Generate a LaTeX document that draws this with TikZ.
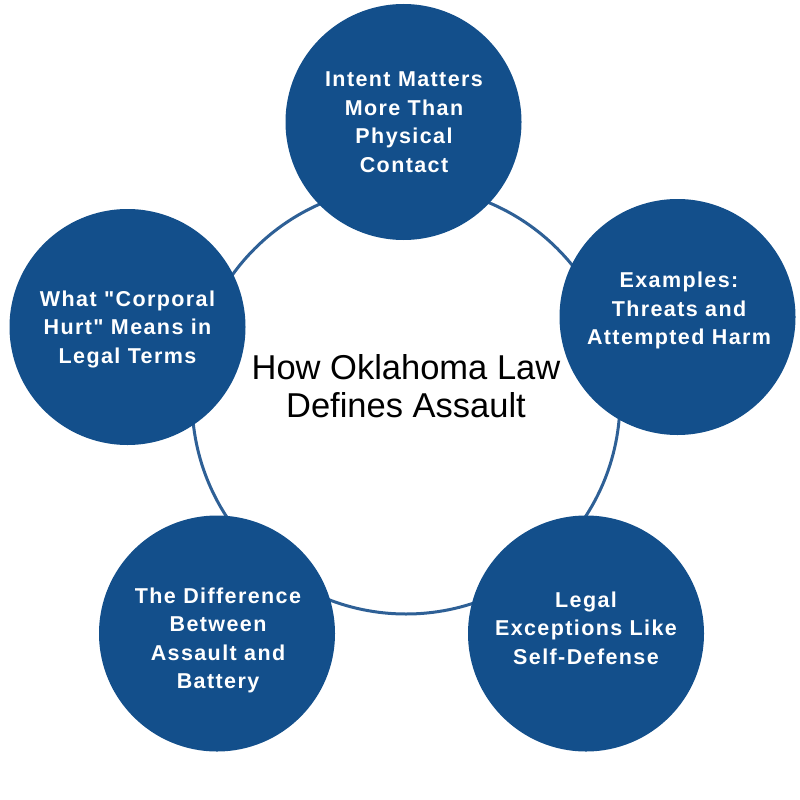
\documentclass[tikz,border=0pt]{standalone}
\usepackage{fontspec}
\setmainfont{Liberation Sans}
\newfontfamily\nodefont[LetterSpace=6.5]{Liberation Sans}
\definecolor{circblue}{RGB}{19,79,139}
\definecolor{ringblue}{RGB}{46,96,150}
\begin{document}
\begin{tikzpicture}[x=1pt,y=-1pt,
  bubble/.style={circle, fill=circblue, minimum size=236pt, inner sep=0pt, outer sep=0pt},
  btext/.style={text=white, align=center, inner sep=0pt, font=\nodefont\bfseries\fontsize{21.5pt}{28.5pt}\selectfont},
  ring/.style={circle, draw=ringblue, line width=3pt, minimum size=428pt, inner sep=0pt, outer sep=0pt},
  titletext/.style={align=center, inner sep=0pt, font=\fontsize{34.5pt}{38pt}\selectfont}]
\useasboundingbox (0,0) rectangle (800,800);
\node[ring] (ring) at (406,400) {};
\node[bubble] (top) at (403.5,122) {};
\node[bubble] (right) at (677.5,317) {};
\node[bubble] (bright) at (586,633.5) {};
\node[bubble] (bleft) at (217,633.5) {};
\node[bubble] (left) at (127.5,327) {};
\node[btext] (ttop) at (404,122) {Intent Matters\\More Than\\Physical\\Contact};
\node[btext] (tright) at (679,310.5) {Examples:\\Threats and\\Attempted Harm};
\node[btext] (tbright) at (586,628) {Legal\\Exceptions Like\\Self-Defense};
\node[btext] (tbleft) at (218,640.5) {The Difference\\Between\\Assault and\\Battery};
\node[btext] (tleft) at (127.5,329) {What "Corporal\\Hurt" Means in\\Legal Terms};
\node[titletext] (title) at (406,386) {How Oklahoma Law\\Defines Assault};
\end{tikzpicture}
\end{document}
